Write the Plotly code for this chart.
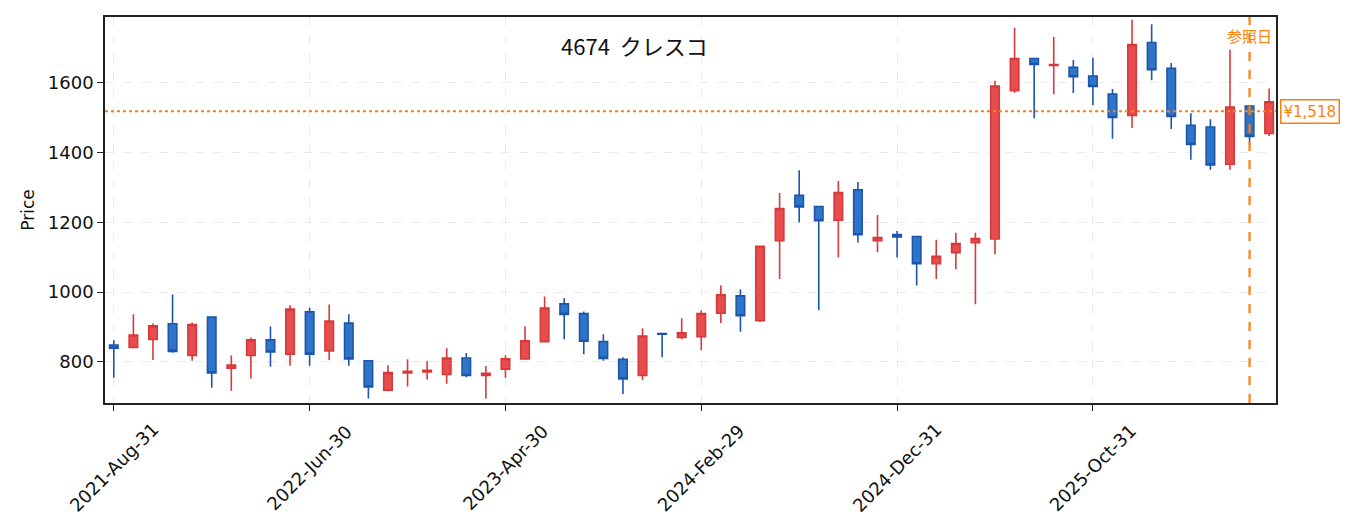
import plotly.graph_objects as go

# monthly OHLC, 4674 クレスコ (month-end dates)
dates = [
    "2021-08-31", "2021-09-30", "2021-10-31", "2021-11-30", "2021-12-31",
    "2022-01-31", "2022-02-28", "2022-03-31", "2022-04-30", "2022-05-31",
    "2022-06-30", "2022-07-31", "2022-08-31", "2022-09-30", "2022-10-31",
    "2022-11-30", "2022-12-31", "2023-01-31", "2023-02-28", "2023-03-31",
    "2023-04-30", "2023-05-31", "2023-06-30", "2023-07-31", "2023-08-31",
    "2023-09-30", "2023-10-31", "2023-11-30", "2023-12-31", "2024-01-31",
    "2024-02-29", "2024-03-31", "2024-04-30", "2024-05-31", "2024-06-30",
    "2024-07-31", "2024-08-31", "2024-09-30", "2024-10-31", "2024-11-30",
    "2024-12-31", "2025-01-31", "2025-02-28", "2025-03-31", "2025-04-30",
    "2025-05-31", "2025-06-30", "2025-07-31", "2025-08-31", "2025-09-30",
    "2025-10-31", "2025-11-30", "2025-12-31", "2026-01-31", "2026-02-28",
    "2026-03-31", "2026-04-30", "2026-05-31", "2026-06-30", "2026-07-31",
]
opens = [848, 841, 864, 909, 818, 928, 782, 818, 863, 822,
         943, 831, 911, 803, 719, 768, 771, 764, 811, 761,
         779, 808, 858, 966, 938, 858, 807, 761, 881, 870,
         872, 939, 989, 918, 1147, 1277, 1245, 1206, 1293, 1147,
         1165, 1159, 1081, 1113, 1141, 1152, 1577, 1669, 1649, 1644,
         1619, 1567, 1506, 1715, 1641, 1478, 1473, 1366, 1533, 1454]
highs = [862, 936, 910, 993, 913, 928, 818, 870, 901, 962,
         955, 964, 936, 803, 790, 807, 802, 839, 825, 788,
         819, 902, 987, 982, 944, 879, 813, 896, 881, 925,
         947, 1019, 1007, 1131, 1284, 1349, 1245, 1318, 1315, 1221,
         1175, 1159, 1150, 1170, 1170, 1605, 1757, 1669, 1731, 1665,
         1671, 1582, 1780, 1767, 1656, 1512, 1495, 1694, 1533, 1583]
lows = [754, 841, 805, 826, 803, 726, 717, 752, 786, 789,
        789, 805, 789, 695, 716, 729, 749, 737, 756, 695,
        754, 808, 855, 865, 822, 803, 708, 748, 813, 865,
        833, 911, 886, 914, 1037, 1199, 948, 1099, 1142, 1114,
        1099, 1019, 1037, 1065, 965, 1108, 1571, 1498, 1567, 1570,
        1535, 1439, 1470, 1607, 1467, 1379, 1350, 1350, 1423, 1447]
closes = [839, 877, 903, 830, 907, 768, 791, 863, 828, 951,
          822, 917, 808, 728, 769, 773, 776, 811, 761, 767,
          809, 860, 954, 936, 859, 810, 751, 874, 879, 883,
          938, 992, 932, 1131, 1239, 1244, 1204, 1285, 1164, 1156,
          1158, 1081, 1102, 1139, 1153, 1590, 1669, 1652, 1652, 1617,
          1589, 1500, 1709, 1637, 1503, 1423, 1364, 1530, 1446, 1545]

tick_idx = [0, 10, 20, 30, 40, 50]
tick_labels = ["2021-Aug-31", "2022-Jun-30", "2023-Apr-30",
               "2024-Feb-29", "2024-Dec-31", "2025-Oct-31"]
y_ticks = [800, 1000, 1200, 1400, 1600]

ref_price = 1518
ref_idx = 58  # 参照日

orange = "#ff7f0e"
tick_font = dict(family="DejaVu Sans", size=18, color="#111")
x = list(range(len(dates)))

fig = go.Figure()
fig.add_trace(go.Candlestick(
    x=x, open=opens, high=highs, low=lows, close=closes,
    text=dates,
    increasing=dict(line=dict(color="#d63a3a", width=1.6), fillcolor="#e84d4d"),
    decreasing=dict(line=dict(color="#1c56aa", width=1.6), fillcolor="#2e74c9"),
    whiskerwidth=0,
    showlegend=False,
))

# reference price (dotted) and reference date (dashed)
fig.add_shape(type="line", xref="paper", x0=0, x1=1, y0=ref_price, y1=ref_price,
              line=dict(color=orange, width=1.8, dash="dot"))
fig.add_shape(type="line", yref="paper", x0=ref_idx, x1=ref_idx, y0=0, y1=1,
              line=dict(color=orange, width=2.2, dash="dash"))

fig.add_annotation(x=ref_idx, y=0.951, yref="paper", yanchor="middle", text="参照日",
                   showarrow=False,
                   font=dict(family="Noto Sans CJK JP", color=orange, size=15))
fig.add_annotation(x=1, xref="paper", y=ref_price, xanchor="left", yanchor="middle", xshift=4,
                   text=f"¥{ref_price:,}", showarrow=False,
                   font=dict(family="DejaVu Sans", color=orange, size=15),
                   bgcolor="white", bordercolor=orange, borderwidth=1.5, borderpad=2)
fig.add_annotation(x=0.4526, xref="paper", y=0.928, yref="paper", yanchor="middle",
                   text="4674  クレスコ", showarrow=False,
                   font=dict(family="Noto Sans CJK JP", size=22, color="#111"))

# x tick labels, rotated about their centre
for i, lab in zip(tick_idx, tick_labels):
    fig.add_annotation(x=i, y=-0.1675, yref="paper", text=lab, textangle=-45,
                       showarrow=False, xanchor="center", yanchor="middle", font=tick_font)

axis_common = dict(showline=True, mirror=True, linecolor="#222", linewidth=1.5,
                   ticks="outside", ticklen=6, tickcolor="#222", tickwidth=1.3,
                   showgrid=True, gridcolor="#ebebeb", griddash="dash", gridwidth=1,
                   zeroline=False, tickfont=tick_font)

fig.update_layout(
    width=1347, height=524,
    margin=dict(l=97, r=79, t=7, b=129),
    paper_bgcolor="white", plot_bgcolor="white",
    font=dict(family="DejaVu Sans"),
    xaxis=dict(range=[-0.45, 59.35], tickvals=tick_idx, showticklabels=False,
               rangeslider=dict(visible=False), **axis_common),
    yaxis=dict(range=[682, 1788], tickvals=y_ticks,
               title=dict(text="Price", font=dict(family="DejaVu Sans", size=17, color="#111"),
                          standoff=9),
               **axis_common),
    boxgap=0.38,
)

fig.write_html("out.html")
